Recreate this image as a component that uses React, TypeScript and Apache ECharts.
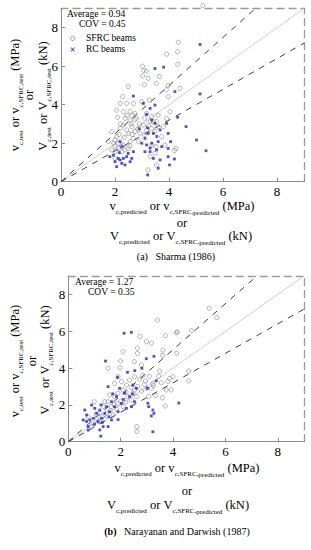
import React, { useEffect, useRef } from "react";
import * as echarts from "echarts";

// ---- axis ----
const axisMin = 0;
const axisMax = 9;
const axisInterval = 2;
// reference lines: test = slope * predicted
const refSlopes = [1, 1.25, 0.8];

// ---- (a) Sharma (1986) ----
const statsA = ["Average = 0.94", "COV = 0.45"];
const sfrcA: number[][] = [
  [5.25, 9.15], [4.35, 7.24], [4.32, 6.75], [3.91, 6.63], [4.32, 6.1], [3.02, 6.0], [3.07, 5.78], [3.17, 5.75],
  [3.02, 5.49], [3.23, 5.37], [3.64, 5.47], [3.09, 5.05], [3.97, 5.0], [3.9, 4.78], [4.41, 4.85], [3.54, 5.11],
  [2.49, 4.94], [2.28, 4.42], [2.19, 4.07], [2.43, 4.07], [2.68, 4.07], [2.99, 4.16], [3.27, 4.24], [3.97, 4.42],
  [2.06, 3.72], [2.31, 3.64], [2.56, 3.64], [2.74, 3.55], [3.17, 3.55], [3.36, 3.38], [2.37, 3.29], [2.56, 3.2],
  [2.74, 3.24], [3.3, 3.12], [3.05, 2.95], [3.54, 3.12], [3.42, 3.12], [4.04, 3.64], [3.91, 3.29], [3.6, 3.46],
  [1.88, 2.6], [2.19, 2.77], [2.31, 2.95], [2.43, 2.69], [2.62, 2.86], [2.74, 2.6], [2.93, 2.51], [3.17, 2.69],
  [3.48, 2.6], [3.6, 2.86], [3.79, 2.86], [3.73, 2.34], [1.75, 2.08], [2.0, 2.17], [2.12, 2.0], [2.31, 1.91],
  [2.56, 2.08], [2.68, 2.25], [2.86, 2.08], [2.06, 2.34], [1.88, 1.65], [2.0, 1.56], [2.12, 1.73], [2.25, 1.56],
  [2.37, 1.65], [2.49, 1.73], [3.3, 1.3], [3.48, 1.47], [3.85, 1.9], [4.26, 1.73], [4.2, 1.62], [3.23, 0.61],
  [3.54, 0.87], [2.0, 1.21], [2.2, 3.0], [2.45, 3.45], [2.6, 3.0], [2.8, 3.3], [2.9, 3.0], [2.5, 2.5],
  [2.35, 2.3], [2.15, 2.45], [2.65, 2.45], [2.85, 2.75], [2.0, 1.85], [2.25, 1.85], [1.95, 2.0], [2.55, 1.85],
  [3.1, 3.3], [3.25, 2.9], [3.35, 2.75], [3.1, 2.45], [3.52, 1.82], [3.37, 1.9], [2.1, 3.35], [2.65, 3.45],
];
const rcA: number[][] = [
  [5.15, 7.13], [3.48, 5.88], [3.8, 5.95], [2.68, 4.45], [4.22, 4.68], [5.15, 4.56], [3.05, 4.07], [3.3, 3.81],
  [3.48, 3.98], [4.32, 3.35], [3.36, 3.2], [3.48, 3.03], [3.91, 3.03], [4.63, 2.86], [3.23, 2.51], [3.42, 2.51],
  [3.67, 2.69], [3.97, 2.51], [3.11, 2.25], [2.99, 2.0], [3.17, 1.91], [3.36, 2.0], [3.6, 2.08], [4.06, 2.08],
  [5.02, 2.17], [3.11, 1.56], [3.3, 1.56], [3.54, 1.65], [3.73, 1.82], [3.97, 1.73], [5.37, 1.61], [3.42, 1.21],
  [3.67, 1.13], [3.97, 1.3], [4.2, 1.18], [3.6, 0.7], [4.02, 0.87], [3.21, 0.35], [2.19, 2.08], [2.25, 1.82],
  [1.81, 1.3], [1.94, 1.38], [2.12, 1.21], [2.19, 1.13], [2.31, 1.21], [2.25, 0.95], [2.43, 1.3], [2.56, 1.04],
  [2.62, 1.21], [2.06, 0.78], [2.37, 0.87], [2.49, 1.47], [2.0, 1.04], [2.68, 1.56], [2.16, 1.51], [3.17, 3.5],
  [2.9, 2.75], [3.2, 2.8], [3.55, 2.35], [3.3, 1.75],
];

// ---- (b) Narayanan and Darwish (1987) ----
const statsB = ["Average = 1.27", "COV = 0.35"];
const sfrcB: number[][] = [
  [5.38, 7.25], [5.67, 6.74], [3.4, 6.61], [4.71, 6.03], [4.12, 5.92], [4.16, 5.96], [3.71, 5.76], [2.73, 5.71],
  [2.98, 5.43], [3.17, 5.35], [2.64, 5.08], [2.64, 4.8], [3.61, 4.98], [3.61, 4.7], [4.14, 4.8], [2.09, 4.89],
  [2.0, 4.38], [1.52, 3.99], [1.97, 4.02], [2.79, 4.17], [3.49, 3.84], [3.99, 3.53], [3.87, 3.44], [3.8, 3.26],
  [3.93, 2.81], [3.74, 2.81], [4.6, 3.84], [4.6, 3.3], [3.59, 2.39], [3.7, 1.94], [2.62, 0.82], [2.62, 0.56],
  [3.23, 3.17], [3.17, 2.9], [3.07, 2.45], [2.52, 4.35], [1.9, 3.53], [1.77, 3.17], [2.03, 3.26], [2.22, 3.08],
  [2.34, 3.35], [2.53, 3.53], [2.09, 2.81], [1.9, 2.63], [1.77, 2.45], [2.28, 2.45], [2.47, 2.63], [1.52, 2.17],
  [1.65, 1.9], [1.33, 1.9], [1.39, 2.17], [1.2, 1.54], [1.08, 1.27], [0.95, 1.0], [0.89, 0.82], [1.46, 1.54],
  [1.9, 2.08], [2.09, 1.9], [2.41, 2.26], [2.53, 2.81], [0.99, 2.17], [1.58, 2.54], [0.76, 1.36], [1.71, 1.45],
  [2.6, 2.45], [2.73, 3.4], [2.85, 3.6], [2.95, 3.3], [3.1, 3.55], [2.65, 3.0], [2.8, 2.75], [3.0, 2.9],
  [3.25, 3.05], [3.33, 2.5], [2.2, 2.7], [2.4, 2.95], [1.6, 1.7], [1.3, 1.35], [1.15, 1.1], [1.4, 1.25],
  [1.75, 2.0], [2.0, 2.2], [1.85, 1.75], [2.2, 2.15], [1.05, 1.5], [2.9, 3.1], [3.45, 3.55], [3.55, 3.2],
];
const rcB: number[][] = [
  [2.13, 5.89], [2.41, 5.94], [1.42, 4.38], [3.27, 4.64], [2.98, 4.51], [2.81, 3.99], [2.54, 3.86], [3.36, 3.31],
  [3.02, 2.9], [4.22, 2.1], [3.04, 2.09], [3.07, 1.9], [3.23, 1.72], [3.27, 1.54], [3.17, 1.4], [3.23, 0.54],
  [1.2, 0.64], [1.24, 0.3], [1.52, 0.82], [1.88, 3.5], [2.26, 3.77], [0.57, 1.18], [0.7, 1.45], [0.76, 0.82],
  [0.82, 1.18], [0.95, 1.27], [1.08, 1.54], [1.14, 1.09], [1.2, 1.72], [1.27, 1.27], [1.33, 0.82], [1.39, 1.54],
  [1.46, 1.9], [1.58, 1.63], [1.65, 2.17], [1.77, 1.9], [1.84, 2.45], [1.9, 1.63], [2.03, 2.08], [2.15, 2.63],
  [2.22, 1.81], [2.34, 2.45], [2.41, 1.9], [2.47, 3.08], [2.53, 2.17], [1.52, 2.99], [1.96, 2.9], [0.76, 0.63],
  [1.01, 1.81], [0.89, 1.99], [0.63, 1.72], [1.65, 1.18], [2.6, 2.9], [0.7, 1.1], [1.0, 0.95], [1.3, 1.05],
  [1.55, 1.35], [1.7, 2.6], [2.1, 2.3], [1.9, 1.2], [1.25, 2.0], [2.45, 2.6],
];

// ---- texts ----
const legendNames = ["SFRC beams", "RC beams"];
const captionA = "{n|(a)   Sharma (1986)}";
const captionB = "{b|(b)}{n|   Narayanan and Darwish (1987)}";
const xName1 = "{m|v}{s|c,predicted}{m| or v}{s|c,SFRC,}{ss|predicted}{m| (MPa)}";
const xName3 = "{m|V}{s|c,predicted}{m| or V}{s|c,SFRC,}{ss|predicted}{m| (kN)}";
const yName1 = "{m|v}{s|c,test}{m| or v}{s|c,SFRC,test}{m| (MPa)}";
const yName3 = "{m|V}{s|c,test}{m| or V}{s|c,SFRC,test}{m| (kN)}";
const orText = "or";

const SERIF = "'Liberation Serif', 'Times New Roman', serif";

const rich = {
  m: { fontSize: 12.5, fontFamily: SERIF, lineHeight: 13, padding: [0, 0, 4, 0], verticalAlign: "bottom", fill: "#000", color: "#000" },
  s: { fontSize: 7, fontFamily: SERIF, lineHeight: 7, padding: [0, 0, 1, 0], verticalAlign: "bottom", fill: "#000", color: "#000" },
  ss: { fontSize: 7, fontFamily: SERIF, lineHeight: 7, padding: [0, 0, 0, 0], verticalAlign: "bottom", fill: "#000", color: "#000" },
  n: { fontSize: 10, fontFamily: SERIF, fill: "#000", color: "#000" },
  b: { fontSize: 10, fontFamily: SERIF, fontWeight: "bold", fill: "#000", color: "#000" },
};

function txt(x: number, y: number, text: string, opts: any = {}) {
  return {
    type: "text",
    x,
    y,
    rotation: opts.rotation || 0,
    silent: true,
    style: {
      x: 0,
      y: 0,
      text,
      rich,
      fill: opts.fill || "#000",
      fontSize: opts.fontSize || 12.5,
      fontFamily: SERIF,
      fontWeight: opts.fontWeight || "normal",
      align: opts.align || "center",
      textAlign: opts.align || "center",
      verticalAlign: "middle",
      textVerticalAlign: "middle",
    },
  };
}

function axisMain(gridIndex: number) {
  return {
    gridIndex,
    type: "value",
    min: axisMin,
    max: axisMax,
    interval: axisInterval,
    axisLine: { show: true, onZero: false, lineStyle: { color: "#8c8c8c", width: 1 } },
    axisTick: { show: true, inside: true, length: 4, lineStyle: { color: "#8c8c8c" } },
    axisLabel: { showMaxLabel: false, color: "#000", fontFamily: SERIF, fontSize: 13, margin: 3 },
    splitLine: { show: false },
  };
}
function borderAxis(gridIndex: number, position: string) {
  return {
    gridIndex,
    type: "value",
    position,
    min: axisMin,
    max: axisMax,
    axisLine: { show: true, onZero: false, lineStyle: { color: "#9a9a9a", width: 1.3, type: [7, 5] } },
    axisTick: { show: false },
    axisLabel: { show: false },
    splitLine: { show: false },
  };
}

function seriesFor(xi: number, yi: number, sfrc: number[][], rc: number[][]) {
  const lines = refSlopes.map((s, i) => ({
    type: "line",
    xAxisIndex: xi,
    yAxisIndex: yi,
    data: [[axisMin, axisMin * s], [axisMax, axisMax * s]],
    showSymbol: false,
    symbol: "none",
    silent: true,
    clip: true,
    lineStyle: i === 0 ? { color: "#d0d0d0", width: 1 } : { color: "#3c3c3c", width: 1, type: [6, 6] },
    z: 1,
  }));
  return [
    ...lines,
    {
      type: "scatter",
      name: legendNames[0],
      xAxisIndex: xi,
      yAxisIndex: yi,
      data: sfrc,
      symbol: "circle",
      symbolSize: 4.2,
      clip: false,
      itemStyle: { color: "rgba(255,255,255,0)", borderColor: "#858585", borderWidth: 0.8 },
      z: 3,
    },
    {
      type: "scatter",
      name: legendNames[1],
      xAxisIndex: xi,
      yAxisIndex: yi,
      data: rc,
      symbol: "rect",
      symbolSize: 2.8,
      itemStyle: { color: "#2323d8" },
      z: 4,
    },
  ];
}

export default function App() {
  const ref = useRef<HTMLDivElement>(null);
  useEffect(() => {
    document.body.style.margin = "0";
    const chart = echarts.init(ref.current!, undefined, { renderer: "svg" });
    const option: any = {
      animation: false,
      backgroundColor: "#fff",
      textStyle: { fontFamily: SERIF },
      grid: [
        { left: 61, top: 8.5, width: 243, height: 173.2 },
        { left: 68.3, top: 276, width: 235.7, height: 165.7 },
      ],
      xAxis: [axisMain(0), borderAxis(0, "top"), axisMain(1), borderAxis(1, "top")],
      yAxis: [axisMain(0), borderAxis(0, "right"), axisMain(1), borderAxis(1, "right")],
      series: [...seriesFor(0, 0, sfrcA, rcA), ...seriesFor(2, 2, sfrcB, rcB)],
      graphic: [
        // plot (a) annotations
        txt(67, 13.5, statsA[0], { align: "left", fontSize: 9.5 }),
        txt(79, 23.7, statsA[1], { align: "left", fontSize: 9.5 }),
        { type: "circle", silent: true, shape: { cx: 72.7, cy: 38.3, r: 2.2 }, style: { fill: "none", stroke: "#858585", lineWidth: 0.8 } },
        txt(86, 38.3, legendNames[0], { align: "left", fontSize: 9.5 }),
        txt(72.7, 49.3, "×", { fill: "#2323d8", fontSize: 10, fontWeight: "bold" }),
        txt(86, 49.3, legendNames[1], { align: "left", fontSize: 9.5 }),
        txt(182, 210, xName1),
        txt(182, 223, orText),
        txt(181, 240, xName3),
        txt(176, 256, captionA),
        txt(19, 95, yName1, { rotation: Math.PI / 2 }),
        txt(29, 95, orText, { rotation: Math.PI / 2 }),
        txt(47, 96, yName3, { rotation: Math.PI / 2 }),
        // plot (b) annotations
        txt(75, 281.7, statsB[0], { align: "left", fontSize: 9.5 }),
        txt(88, 292, statsB[1], { align: "left", fontSize: 9.5 }),
        txt(187, 472, xName1),
        txt(187, 491, orText),
        txt(178, 509, xName3),
        txt(177, 531, captionB),
        txt(19, 361, yName1, { rotation: Math.PI / 2 }),
        txt(32, 361, orText, { rotation: Math.PI / 2 }),
        txt(49, 360, yName3, { rotation: Math.PI / 2 }),
      ],
    };
    chart.setOption(option);
    return () => chart.dispose();
  }, []);
  return <div ref={ref} style={{ position: "absolute", left: 0, top: 0, width: 311, height: 550 }} />;
}
